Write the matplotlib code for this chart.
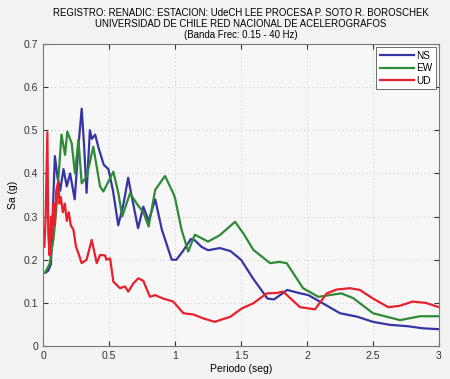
import matplotlib
matplotlib.use("Agg")
import matplotlib.pyplot as plt

# Espectros de respuesta
ns_t = [0.02, 0.04, 0.06, 0.075, 0.09, 0.11, 0.13, 0.155, 0.18, 0.205, 0.24, 0.27,
        0.293, 0.31, 0.33, 0.355, 0.37, 0.395, 0.42, 0.46, 0.495, 0.53, 0.57, 0.61,
        0.645, 0.67, 0.72, 0.76, 0.80, 0.85, 0.90, 0.975, 1.01, 1.06, 1.12, 1.15,
        1.20, 1.25, 1.34, 1.42, 1.50, 1.59, 1.70, 1.75, 1.85, 1.95, 2.01, 2.12,
        2.25, 2.38, 2.50, 2.63, 2.76, 2.88, 3.0]
ns_sa = [0.17, 0.175, 0.19, 0.32, 0.44, 0.39, 0.36, 0.41, 0.37, 0.40, 0.34, 0.47,
         0.55, 0.47, 0.355, 0.50, 0.48, 0.49, 0.46, 0.42, 0.41, 0.36, 0.28, 0.33,
         0.39, 0.35, 0.273, 0.323, 0.29, 0.34, 0.27, 0.20, 0.20, 0.22, 0.248, 0.245,
         0.23, 0.222, 0.227, 0.22, 0.20, 0.157, 0.11, 0.108, 0.13, 0.122, 0.118, 0.099,
         0.076, 0.068, 0.056, 0.049, 0.046, 0.041, 0.039]

ew_t = [0.015, 0.05, 0.08, 0.10, 0.14, 0.167, 0.184, 0.217, 0.242, 0.268, 0.293,
        0.331, 0.381, 0.432, 0.457, 0.533, 0.571, 0.60, 0.659, 0.71, 0.76, 0.80,
        0.85, 0.924, 0.987, 1.0, 1.05, 1.10, 1.15, 1.25, 1.34, 1.455, 1.52, 1.593,
        1.72, 1.79, 1.846, 1.97, 2.086, 2.17, 2.26, 2.35, 2.50, 2.705, 2.856, 3.0]
ew_sa = [0.17, 0.19, 0.25, 0.316, 0.49, 0.443, 0.497, 0.47, 0.40, 0.478, 0.377,
         0.393, 0.462, 0.37, 0.358, 0.404, 0.354, 0.30, 0.354, 0.33, 0.31, 0.277,
         0.362, 0.394, 0.354, 0.343, 0.269, 0.219, 0.258, 0.242, 0.257, 0.288, 0.26,
         0.223, 0.192, 0.195, 0.192, 0.134, 0.114, 0.118, 0.122, 0.111, 0.076, 0.06,
         0.069, 0.069]

ud_t = [0.01, 0.02, 0.033, 0.04, 0.05, 0.06, 0.07, 0.08, 0.09, 0.10, 0.115, 0.125,
        0.135, 0.15, 0.165, 0.18, 0.195, 0.21, 0.23, 0.25, 0.268, 0.293, 0.33,
        0.369, 0.407, 0.432, 0.47, 0.48, 0.508, 0.533, 0.583, 0.621, 0.646, 0.684,
        0.722, 0.76, 0.81, 0.848, 0.911, 0.987, 1.063, 1.14, 1.215, 1.30, 1.42,
        1.505, 1.593, 1.695, 1.77, 1.82, 1.947, 2.06, 2.15, 2.225, 2.326, 2.40,
        2.50, 2.616, 2.70, 2.80, 2.90, 3.0]
ud_sa = [0.23, 0.30, 0.495, 0.26, 0.21, 0.30, 0.25, 0.33, 0.28, 0.36, 0.38, 0.33,
         0.345, 0.31, 0.33, 0.29, 0.31, 0.28, 0.27, 0.23, 0.215, 0.192, 0.20,
         0.246, 0.192, 0.211, 0.21, 0.20, 0.203, 0.149, 0.134, 0.138, 0.126, 0.145,
         0.157, 0.151, 0.114, 0.118, 0.11, 0.103, 0.076, 0.073, 0.064, 0.056, 0.068,
         0.087, 0.099, 0.122, 0.123, 0.126, 0.09, 0.085, 0.122, 0.131, 0.134, 0.13,
         0.11, 0.09, 0.093, 0.103, 0.10, 0.09]

titulo = ("REGISTRO: RENADIC: ESTACION: UdeCH LEE PROCESA P. SOTO R. BOROSCHEK\n"
          "UNIVERSIDAD DE CHILE RED NACIONAL DE ACELEROGRAFOS\n"
          "(Banda Frec: 0.15 - 40 Hz)")

plt.rcParams['font.family'] = ['Liberation Sans', 'DejaVu Sans']

fig = plt.figure(figsize=(4.5, 3.79), dpi=100, facecolor='#f2f2f2')
ax = fig.add_axes([0.0956, 0.087, 0.88, 0.797])
ax.set_facecolor('#f7f7f7')

ax.plot(ns_t, ns_sa, color='#3535a5', lw=1.6, label='NS')
ax.plot(ew_t, ew_sa, color='#2f8a35', lw=1.6, label='EW')
ax.plot(ud_t, ud_sa, color='#e8202c', lw=1.6, label='UD')

ax.set_xlim(0, 3)
ax.set_ylim(0, 0.7)
ax.set_xticks([0, 0.5, 1, 1.5, 2, 2.5, 3])
ax.set_xticklabels(['0', '0.5', '1', '1.5', '2', '2.5', '3'])
ax.set_yticks([0, 0.1, 0.2, 0.3, 0.4, 0.5, 0.6, 0.7])
ax.set_yticklabels(['0', '0.1', '0.2', '0.3', '0.4', '0.5', '0.6', '0.7'])
ax.tick_params(direction='in', labelsize=7.5, colors='#333333', top=True, right=True)
ax.grid(True, ls=(0, (1, 3)), color='#c4c4c4', lw=0.7)
for s in ax.spines.values():
    s.set_color('#777777')

ax.set_xlabel('Periodo (seg)', fontsize=7.5, labelpad=2)
ax.set_ylabel('Sa (g)', fontsize=7.5, labelpad=4)
ax.set_title(titulo, fontsize=6.9, linespacing=1.15, pad=4)

leg = ax.legend(loc='upper right', fontsize=7.2, handlelength=3.4, borderpad=0.35,
                labelspacing=0.25, handletextpad=0.2, fancybox=False,
                framealpha=1, borderaxespad=0.35)
leg.get_frame().set_edgecolor('#555555')
leg.get_frame().set_linewidth(0.6)

fig.savefig('out.png', dpi=100, facecolor=fig.get_facecolor())
